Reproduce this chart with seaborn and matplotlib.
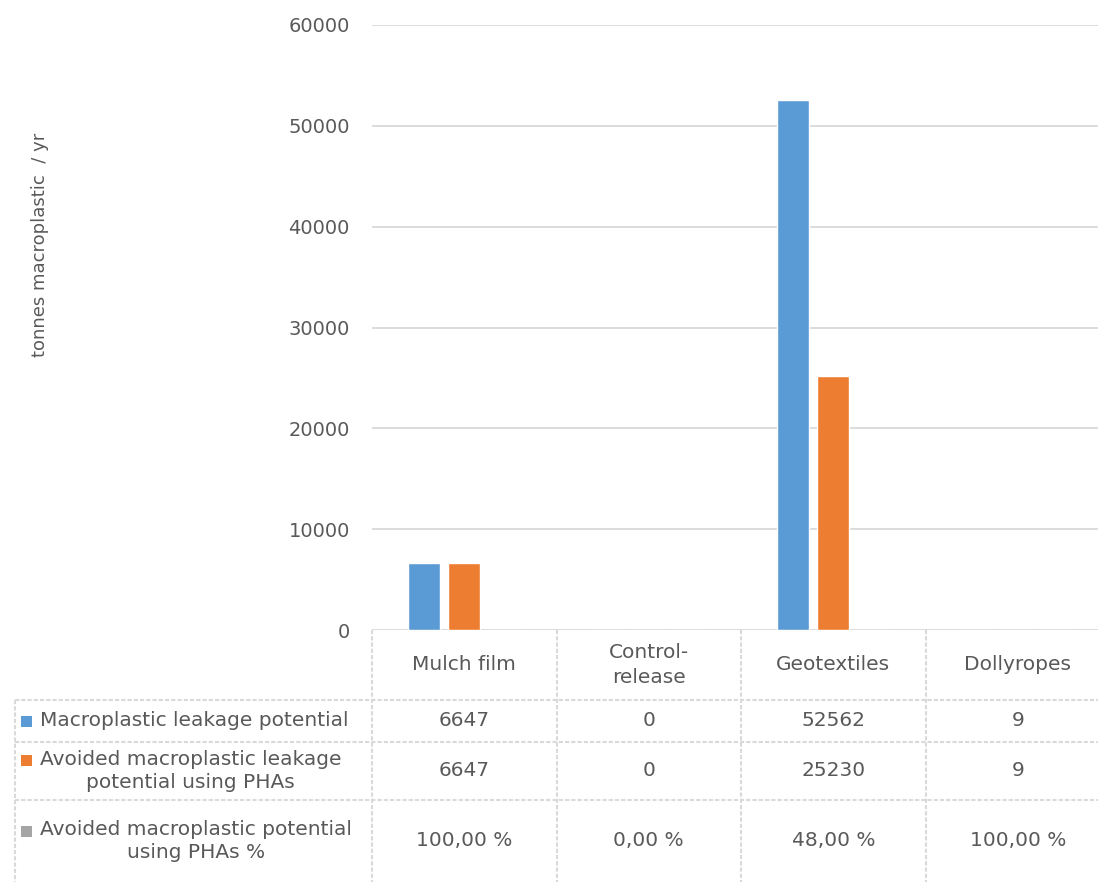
import pandas as pd
import numpy as np
import matplotlib.pyplot as plt
import seaborn as sns

# Data
categories = ['Mulch film', 'Control-\nrelease', 'Geotextiles', 'Dollyropes']
leakage = [6647, 0, 52562, 9]
avoided = [6647, 0, 25230, 9]
avoided_pct = [100.00, 0.00, 48.00, 100.00]
series = ['Macroplastic leakage potential',
          'Avoided macroplastic leakage\npotential using PHAs',
          'Avoided macroplastic potential\nusing PHAs %']
colors = ['#5B9BD5', '#ED7D31', '#A5A5A5']

sns.set_style('white')
plt.rcParams['font.family'] = ['DejaVu Sans']
txt = '#595959'
grid = '#D9D9D9'

# Long format table for seaborn (percent series plotted as fraction like Excel)
df = pd.DataFrame({
    'category': categories * 3,
    'series': [series[0]] * 4 + [series[1]] * 4 + [series[2]] * 4,
    'value': leakage + avoided + [p / 100 for p in avoided_pct],
})

fig = plt.figure(figsize=(10.98, 8.82), dpi=100)
ax = fig.add_axes([372 / 1098, 1 - 630 / 882, (1110 - 372) / 1098, (630 - 25) / 882])

sns.barplot(data=df, x='category', y='value', hue='series', palette=colors,
            width=0.65, gap=0.2, legend=False, ax=ax, saturation=1)

ax.set_ylim(0, 60000)
ax.set_xlim(-0.5, 3.5)
ax.set_yticks(np.arange(0, 60001, 10000))
ax.yaxis.grid(True, color=grid, linewidth=1.3)
ax.set_axisbelow(True)
for s in ax.spines.values():
    s.set_visible(False)
ax.tick_params(axis='y', length=0, pad=16, labelsize=14, labelcolor=txt)
ax.set_xticks([])
ax.set_xlabel('')
ax.set_ylabel('')

fig.text(40 / 1098, 1 - 245 / 882, 'tonnes macroplastic  / yr', rotation=90,
         ha='center', va='center', fontsize=13, color=txt)

# Data table under the chart, drawn in pixel coordinates
ov = fig.add_axes([0, 0, 1, 1])
ov.set_xlim(0, 1098)
ov.set_ylim(882, 0)
ov.axis('off')
ov.patch.set_visible(False)

fig.canvas.draw()
edges = [ax.transData.transform((b, 0))[0] for b in np.arange(-0.5, 4.0, 1.0)]
centers = [ax.transData.transform((c, 0))[0] for c in range(4)]

rows_y = [630, 700, 742, 800, 882]
ls = (0, (2, 1))
for x in edges:
    ov.plot([x, x], [630, 882], color=grid, lw=1.5, ls=ls)
ov.plot([15, 15], [700, 882], color=grid, lw=1.5, ls=ls)
for y in rows_y[1:4]:
    ov.plot([15, 1110], [y, y], color=grid, lw=1.5, ls=ls)

fs = 14.5
for c, name in zip(centers, categories):
    ov.text(c, 665, name, ha='center', va='center', fontsize=fs, color=txt,
            linespacing=1.35)

row_vals = [
    [str(v) for v in leakage],
    [str(v) for v in avoided],
    [f'{p:.2f} %'.replace('.', ',') for p in avoided_pct],
]
key_y = [721, 760, 831]
for i in range(3):
    ymid = (rows_y[i + 1] + rows_y[i + 2]) / 2
    ov.add_patch(plt.Rectangle((21, key_y[i] - 5.5), 11, 11, color=colors[i], lw=0))
    ov.text(40, ymid, series[i], ha='left', va='center', fontsize=fs, color=txt,
            multialignment='center', linespacing=1.3)
    for c, v in zip(centers, row_vals[i]):
        ov.text(c, ymid, v, ha='center', va='center', fontsize=fs, color=txt)

fig.savefig('out.png', dpi=100)
